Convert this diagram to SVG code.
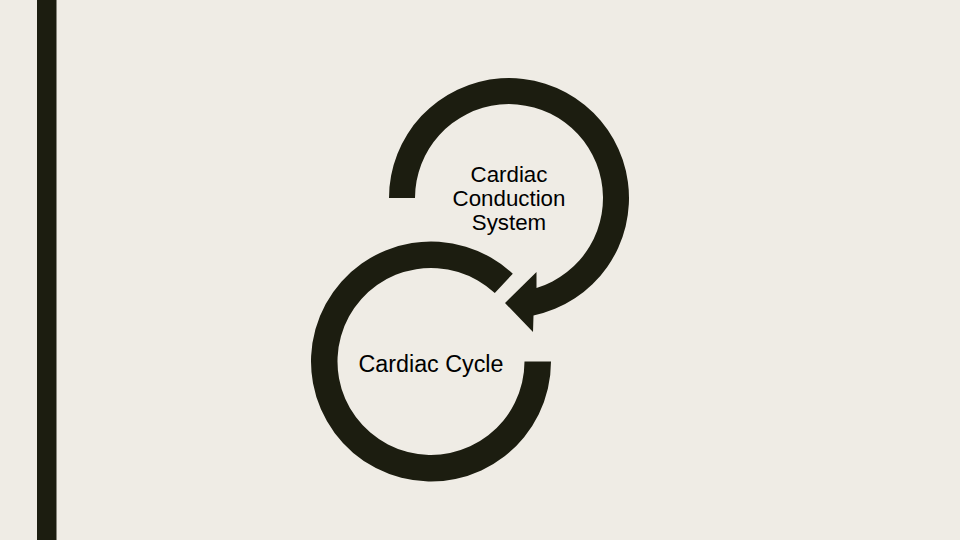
<svg xmlns="http://www.w3.org/2000/svg" width="960" height="540" viewBox="0 0 960 540">
  <style>
    .shape { fill: #1c1d10; }
    .label { font-family: "Liberation Sans", Arial, sans-serif; fill: #000000; text-anchor: middle; }
  </style>
  <rect x="0" y="0" width="960" height="540" fill="#efece5"/>
  <rect class="shape" x="37" y="0" width="19.5" height="540"/>
  <g id="connectors">
    <path id="arrow-top" class="shape" d="M 389 198 A 120 120 0 1 1 533.5 315.5 L 533 332 L 505 303 L 536.5 272 L 536.5 288 A 94 94 0 1 0 415 198 Z"/>
    <path id="arrow-bottom" class="shape" d="M 551 361.5 A 120 120 0 1 1 512.8 273.7 L 494.8 293.1 A 93.5 93.5 0 1 0 524.5 361.5 Z"/>
  </g>
  <g id="node-conduction">
    <text class="label" font-size="22.3" x="509" y="181.7">Cardiac</text>
    <text class="label" font-size="22.3" x="509" y="206">Conduction</text>
    <text class="label" font-size="22.3" x="509" y="230.3">System</text>
  </g>
  <g id="node-cycle">
    <text class="label" font-size="23.3" x="431" y="371.5">Cardiac Cycle</text>
  </g>
</svg>
